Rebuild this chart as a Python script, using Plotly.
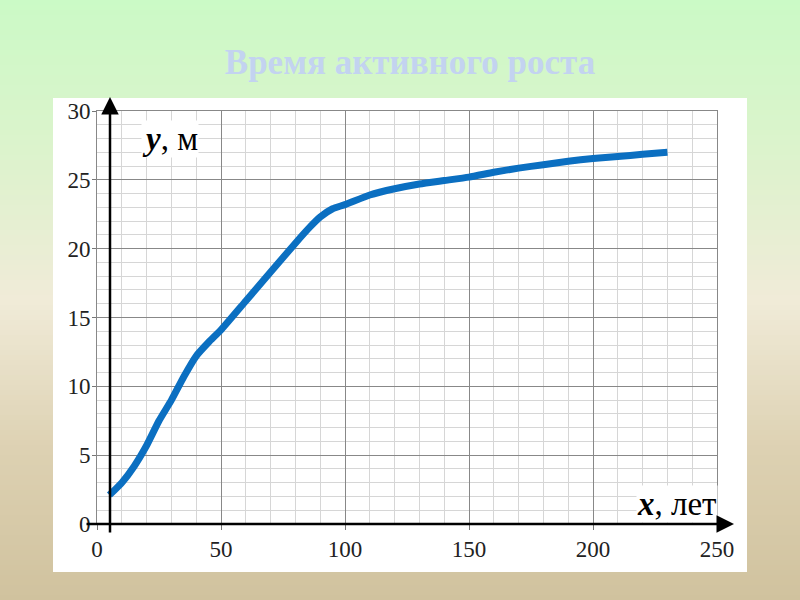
import plotly.graph_objects as go

# Tree height (m) vs age (years)
age = [5, 10, 15, 20, 25, 30, 35, 40, 45, 50, 60, 70, 80, 86, 90, 95, 100,
       110, 120, 130, 140, 150, 160, 170, 180, 190, 200, 210, 220, 230]
height = [2.1, 3.0, 4.2, 5.7, 7.5, 9.0, 10.7, 12.2, 13.2, 14.1, 16.2, 18.3, 20.4, 21.6, 22.3, 22.9, 23.2,
          23.9, 24.35, 24.7, 24.95, 25.2, 25.55, 25.85, 26.1, 26.35, 26.55, 26.7, 26.85, 27.0]

x_ticks = [0, 50, 100, 150, 200, 250]
y_ticks = [0, 5, 10, 15, 20, 25, 30]
title_text = "Время активного роста"

# plot area in pixels
L, R, T, B = 97, 717, 111, 524
W, H = 800, 600


def px_x(px):
    return (px - L) / (R - L)


def px_y(py):
    return (B - py) / (B - T)


def mix(c1, c2, t):
    return "#%02x%02x%02x" % tuple(int(round(a + (b - a) * t)) for a, b in zip(c1, c2))


# background gradient stops (pixel y, rgb)
stops = [(0, (0xcb, 0xfa, 0xc6)), (150, (0xdc, 0xf3, 0xcc)), (300, (0xf0, 0xeb, 0xd8)),
         (450, (0xdd, 0xd1, 0xb2)), (600, (0xd0, 0xc2, 0x9e))]

shapes = []
step = 5
for y0 in range(0, H, step):
    yc = y0 + step / 2
    for (a, ca), (b, cb) in zip(stops[:-1], stops[1:]):
        if a <= yc <= b:
            col = mix(ca, cb, (yc - a) / (b - a))
            break
    shapes.append(dict(type="rect", xref="paper", yref="paper",
                       x0=px_x(-5), x1=px_x(W + 5), y0=px_y(y0 + step + 0.5), y1=px_y(y0),
                       fillcolor=col, line_width=0, layer="below"))

# white panel
shapes.append(dict(type="rect", xref="paper", yref="paper",
                   x0=px_x(53), x1=px_x(747), y0=px_y(572), y1=px_y(98),
                   fillcolor="white", line_width=0, layer="below"))

fig = go.Figure()
fig.add_trace(go.Scatter(x=age, y=height, mode="lines", line_shape="spline",
                         line=dict(color="#0b6fc1", width=7, smoothing=0.5),
                         hoverinfo="skip", showlegend=False))

tick_font = dict(family="Liberation Serif", size=23, color="#222")

fig.update_xaxes(range=[0, 250], tickvals=x_ticks, ticks="outside", ticklen=5, tickcolor="#777",
                 showgrid=True, gridcolor="#888", gridwidth=1, zeroline=False,
                 showline=True, mirror=True, linecolor="#888", linewidth=1,
                 minor=dict(dtick=10, showgrid=True, gridcolor="#d6d6d6", gridwidth=1),
                 tickfont=tick_font, ticklabelstandoff=-1, fixedrange=True)
fig.update_yaxes(range=[0, 30], tickvals=y_ticks, ticks="outside", ticklen=4, tickcolor="#777",
                 showgrid=True, gridcolor="#888", gridwidth=1, zeroline=False,
                 showline=True, mirror=True, linecolor="#888", linewidth=1,
                 minor=dict(dtick=1, showgrid=True, gridcolor="#d6d6d6", gridwidth=1),
                 tickfont=tick_font, ticklabelstandoff=-3, fixedrange=True)

arrow = dict(xref="paper", yref="paper", showarrow=True, arrowhead=2, arrowsize=1.4,
             arrowwidth=2.5, arrowcolor="black", text="", standoff=0)
label_font = dict(family="Liberation Serif", size=33, color="black")

annotations = [
    # axis labels (white boxes hide the grid behind them)
    dict(x=px_x(141), y=px_y(139), xref="paper", yref="paper", xanchor="left", yanchor="middle",
         showarrow=False, text="<b><i>y</i></b>, м", bgcolor="white", borderpad=0, font=label_font),
    dict(x=px_x(718), y=px_y(504), xref="paper", yref="paper", xanchor="right", yanchor="middle",
         showarrow=False, text="<b><i>x</i></b>, лет", bgcolor="white", borderpad=0, font=label_font),
    # axes arrows (head position, tail offset in px)
    dict(arrow, x=px_x(734), y=px_y(B), ax=-(734 - 85), ay=0),
    dict(arrow, x=px_x(110), y=px_y(97), ax=0, ay=534 - 97),
]

fig.update_layout(
    width=W, height=H,
    margin=dict(l=L, r=W - R, t=T, b=H - B, pad=0, autoexpand=False),
    paper_bgcolor="#e8eed4", plot_bgcolor="white",
    shapes=shapes, annotations=annotations,
    title=dict(text="<b>" + title_text + "</b>", xref="container", yref="container",
               x=410 / W, y=1 - 62 / H, xanchor="center", yanchor="middle",
               font=dict(family="Liberation Serif", size=35, color="#c3d3f0")),
)

fig.write_html("out.html", config={"displayModeBar": False},
               post_script="document.body.style.margin='0';")
